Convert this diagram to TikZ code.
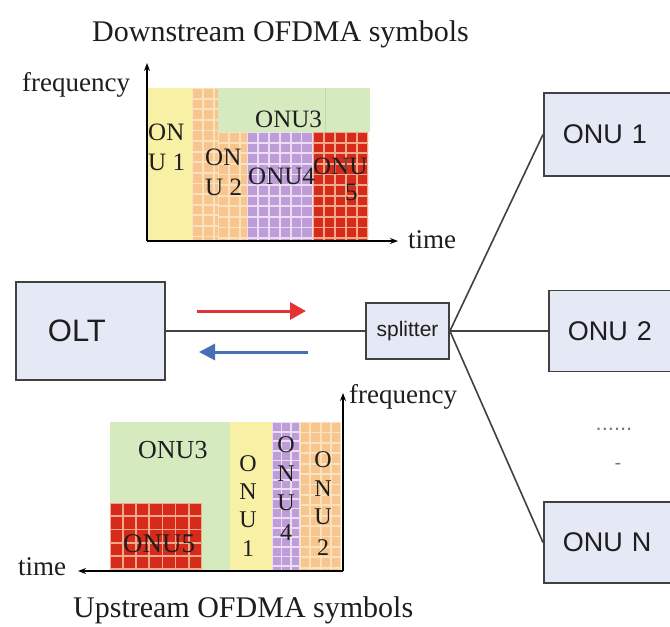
\documentclass[tikz,border=0pt]{standalone}
\usepackage{fontspec}
\setmainfont{Liberation Serif}
\newfontfamily\sansf{Liberation Sans}
\usetikzlibrary{arrows.meta}
\definecolor{boxfill}{RGB}{229,233,245}
\definecolor{boxline}{RGB}{65,65,65}
\definecolor{yelc}{RGB}{247,240,165}
\definecolor{grnc}{RGB}{214,234,192}
\definecolor{orac}{RGB}{246,198,142}
\definecolor{orag}{RGB}{251,226,188}
\definecolor{purc}{RGB}{190,156,216}
\definecolor{purg}{RGB}{236,222,242}
\definecolor{redc}{RGB}{214,42,26}
\definecolor{redg}{RGB}{244,168,138}
\definecolor{dsred}{RGB}{226,52,52}
\definecolor{usblue}{RGB}{72,112,182}
\definecolor{txt}{RGB}{30,30,30}
\newcommand{\ofgrid}[8]{%
  \fill[#8] (#1,#2) rectangle (#3,#4);
  \begin{scope}
    \clip (#1,#2) rectangle (#3,#4);
    \pgfmathtruncatemacro{\gnx}{ceil((#3-#1)/#5)}
    \pgfmathtruncatemacro{\gny}{ceil((#4-#2)/#6)}
    \foreach \gi in {0,...,\gnx}{
      \foreach \gj in {0,...,\gny}{
        \fill[#7] ({#1+\gi*#5+0.9},{#2+\gj*#6+0.9}) rectangle ++({#5-1.8},{#6-1.8});
      }
    }
  \end{scope}}
\begin{document}
\begin{tikzpicture}[x=1pt,y=-1pt,
  netbox/.style={draw=boxline, fill=boxfill, line width=1.8pt, inner ysep=0pt,
    font=\sansf\fontsize{31}{31}\selectfont, text=txt},
  onubox/.style={netbox, anchor=west, minimum height=82pt, text width=100pt,
    inner xsep=19pt, align=left, font=\sansf\fontsize{27}{27}\selectfont},
  link/.style={draw=boxline, line width=1.6pt},
  axisline/.style={draw=black, line width=1.6pt, -{Stealth[length=8pt,width=6pt]}},
  dsarrow/.style={draw=dsred, line width=3pt, -{Triangle[length=16pt,width=17pt]}},
  usarrow/.style={draw=usblue, line width=3pt, -{Triangle[length=16pt,width=16pt]}},
  lbl/.style={inner sep=0pt, anchor=base west, text=txt, font=\fontsize{25}{25}\selectfont},
  vlbl/.style={inner sep=0pt, anchor=base, text=txt, font=\fontsize{24}{24}\selectfont},
  axlbl/.style={inner sep=0pt, anchor=base west, text=txt, font=\fontsize{27}{27}\selectfont},
  title/.style={inner sep=0pt, anchor=base west, text=txt, font=\fontsize{30}{30}\selectfont}
]
\useasboundingbox[fill=white] (0,0) rectangle (670,627);

% ---------- downstream chart ----------
\fill[yelc] (147,88) rectangle (192,240);
\fill[grnc] (218,88) rectangle (370,132);
\draw[grnc!80!gray, line width=0.6pt] (325,88) -- (325,132);
\ofgrid{192}{88}{218}{240}{10.8}{10.6}{orac}{orag}
\ofgrid{218}{132}{247}{240}{10.8}{10.6}{orac}{orag}
\ofgrid{247}{132}{313}{240}{10.9}{10.6}{purc}{purg}
\ofgrid{313}{132}{368}{240}{10.9}{10.6}{redc}{redg}

\coordinate (dso) at (147,241);
\coordinate (dsf) at (147,63);
\coordinate (dst) at (398,241);
\draw[axisline] (dso) -- (dsf);
\draw[axisline] (dso) -- (dst);

\node[axlbl] (dsfreq) at (22,91) {frequency};
\node[axlbl] (dstime) at (408,248) {time};
\node[title] (dstitle) at (92,41) {Downstream OFDMA symbols};

\node[lbl] (d1a) at (148,140) {ON};
\node[lbl] (d1b) at (148,170) {U 1};
\node[lbl] (d2a) at (205,165) {ON};
\node[lbl] (d2b) at (205,195) {U 2};
\node[lbl] (d3) at (255,127) {ONU3};
\node[lbl] (d4) at (248,184) {ONU4};
\node[lbl] (d5a) at (313,174) {ONU};
\node[lbl] (d5b) at (345,200) {5};

% ---------- upstream chart ----------
\fill[grnc] (110,422) rectangle (230,570);
\ofgrid{110}{503}{202}{570}{13.1}{13.2}{redc}{redg}
\fill[yelc] (230,422) rectangle (272,570);
\ofgrid{272}{422}{300}{570}{9.4}{9.6}{purc}{purg}
\ofgrid{300}{422}{341}{570}{10.3}{10.4}{orac}{orag}

\coordinate (uso) at (343,571);
\coordinate (usf) at (343,393);
\coordinate (ust) at (78,571);
\draw[axisline] (uso) -- (usf);
\draw[axisline] (uso) -- (ust);

\node[axlbl] (usfreq) at (349,403) {frequency};
\node[axlbl] (ustime) at (18,575) {time};
\node[title] (ustitle) at (73,617) {Upstream OFDMA symbols};

\node[lbl, font=\fontsize{26}{26}\selectfont] (u3) at (138,458) {ONU3};
\node[lbl, font=\fontsize{27}{27}\selectfont] (u5) at (123,552) {ONU5};
\node[vlbl] at (248,471) {O};
\node[vlbl] at (248,499) {N};
\node[vlbl] at (248,527) {U};
\node[vlbl] at (248,556) {1};
\node[vlbl] at (286,452) {O};
\node[vlbl] at (286,481) {N};
\node[vlbl] at (286,510) {U};
\node[vlbl] at (286,540) {4};
\node[vlbl] at (323,467) {O};
\node[vlbl] at (323,496) {N};
\node[vlbl] at (323,524) {U};
\node[vlbl] at (323,555) {2};

% ---------- network ----------
\node[netbox, anchor=west, text width=85pt, inner xsep=32pt, minimum height=98pt, align=left] (olt) at (15,331) {OLT};
\node[netbox, minimum width=83pt, minimum height=56pt, inner xsep=0pt, font=\sansf\fontsize{21}{21}\selectfont] (split) at (407.5,331) {splitter};
\node[onubox, minimum height=83pt] (onu1) at (543,134.5) {ONU 1};
\node[onubox, minimum height=81pt] (onu2) at (548,331) {ONU 2};
\node[onubox, minimum height=81pt] (onun) at (543,542.5) {ONU N};

\draw[link] (olt.east) -- (split.west);
\draw[link] (split.east) -- (onu2.west);
\draw[link] (split.east) -- (onu1.west);
\draw[link] (split.east) -- (onun.west);

\coordinate (r1) at (197,311);
\coordinate (r2) at (306,311);
\coordinate (b1) at (308,352);
\coordinate (b2) at (199,352);
\draw[dsarrow] (r1) -- (r2);
\draw[usarrow] (b1) -- (b2);

\node[inner sep=0pt, text=boxline!70, font=\sansf\fontsize{22}{22}\selectfont] (dots) at (614,429) {......};
\node[inner sep=0pt, text=boxline!70, font=\sansf\fontsize{20}{20}\selectfont] (dash) at (618,466) {-};
\end{tikzpicture}
\end{document}
